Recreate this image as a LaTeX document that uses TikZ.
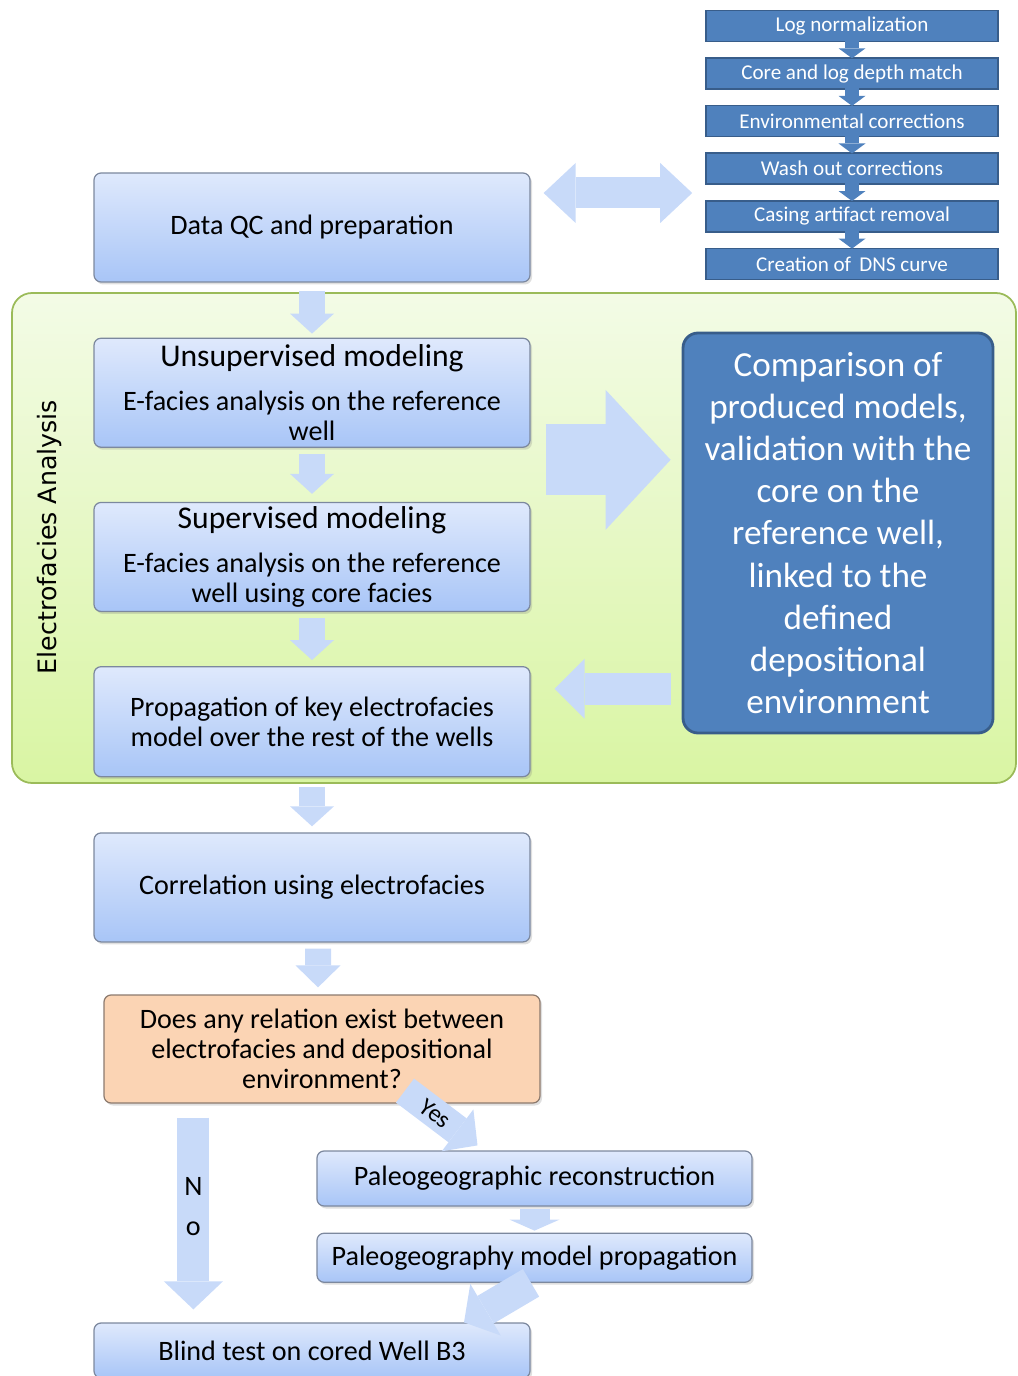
\documentclass[tikz,border=0pt]{standalone}
\usepackage{fontspec}
\setmainfont{Carlito}
\newfontfamily\sidefont{DejaVu Sans}
\usetikzlibrary{arrows.meta, positioning, calc, shadows}
\definecolor{boxtop}{HTML}{DFE9FC}
\definecolor{boxbot}{HTML}{A8C5F7}
\definecolor{boxedge}{HTML}{7C889E}
\definecolor{prepblue}{HTML}{4F81BD}
\definecolor{prepedge}{HTML}{385D8A}
\definecolor{greentop}{HTML}{F3FBE6}
\definecolor{greenbot}{HTML}{D9F5A3}
\definecolor{greenedge}{HTML}{9BBB59}
\definecolor{askfill}{HTML}{FBD4B4}
\definecolor{askedge}{HTML}{8C7A6E}
\definecolor{arrblue}{HTML}{C8DAF9}
\tikzset{
  stepbox/.style={rectangle, rounded corners=4pt, draw=boxedge, line width=0.7pt, top color=boxtop,
    bottom color=boxbot, minimum width=8.72cm, minimum height=2.18cm, align=center,
    font=\fontsize{16}{17}\selectfont, inner sep=2pt,
    drop shadow={opacity=0.25, shadow xshift=0.04cm, shadow yshift=-0.05cm}},
  askbox/.style={stepbox, top color=askfill, bottom color=askfill, draw=askedge},
  prepbox/.style={rectangle, draw=prepedge, line width=0.9pt, fill=prepblue, minimum width=5.84cm,
    minimum height=0.62cm, text=white, font=\fontsize{12}{13}\selectfont, inner sep=1pt},
  bigbox/.style={rectangle, rounded corners=0.3cm, draw=prepedge, line width=1.6pt, fill=prepblue,
    minimum width=6.2cm, minimum height=8cm, text=white, align=center,
    font=\fontsize{20}{24}\selectfont},
  blk/.style={draw=arrblue},
  minarr/.style={draw=prepblue, line width=0.28cm,
    -{Triangle[length=0.2cm, width=0.54cm, line width=0pt]}},
}

\begin{document}
\begin{tikzpicture}
  \useasboundingbox (0,0) rectangle (20.36,-27.52);

  % Electrofacies frame
  \draw[greenedge, line width=1pt, rounded corners=0.4cm, top color=greentop, bottom color=greenbot]
    (0.24,-5.86) rectangle (20.32,-15.66);
  \node[rotate=90, font=\sidefont\fontsize{14.4}{16}\selectfont] (efa) at (1.0,-10.74) {Electrofacies Analysis};

  % main flow
  \node[stepbox] (qc) at (6.24,-4.55) {Data QC and preparation};
  \node[stepbox, below=1.1cm of qc] (unsup)
    {{\fontsize{18}{18}\selectfont Unsupervised modeling}\\[8pt]E-facies analysis on the reference\\well};
  \node[stepbox, below=1.08cm of unsup] (sup)
    {{\fontsize{18}{18}\selectfont Supervised modeling}\\[8pt]E-facies analysis on the reference\\well using core facies};
  \node[stepbox, below=1.08cm of sup, minimum height=2.2cm] (prop)
    {Propagation of key electrofacies\\model over the rest of the wells};
  \node[stepbox, below=1.1cm of prop] (corr) {Correlation using electrofacies};
  \node[askbox, minimum height=2.16cm] (ask) at (6.44,-20.98)
    {Does any relation exist between\\electrofacies and depositional\\environment?};
  \node[stepbox, minimum width=8.7cm, minimum height=1.1cm] (recon) at (10.69,-23.57)
    {Paleogeographic reconstruction};
  \node[stepbox, minimum width=8.7cm, minimum height=0.98cm, below=0.52cm of recon] (mprop)
    {Paleogeography model propagation};
  \node[stepbox, minimum height=1.1cm] (blind) at (6.24,-27.01) {Blind test on cored Well B3};

  % preparation steps
  \node[prepbox] (lognorm) at (17.04,-0.52) {Log normalization};
  \node[prepbox, below=0.3cm of lognorm] (depth) {Core and log depth match};
  \node[prepbox, below=0.3cm of depth] (envcor) {Environmental corrections};
  \node[prepbox, below=0.3cm of envcor] (wash) {Wash out corrections};
  \node[prepbox, below=0.3cm of wash] (casing) {Casing artifact removal};
  \node[prepbox, below=0.3cm of casing] (dns) {Creation of\, DNS curve};
  \draw[minarr] ([yshift=0.06cm]lognorm.south) -- ([yshift=-0.02cm]depth.north);
  \draw[minarr] ([yshift=0.06cm]depth.south) -- ([yshift=-0.02cm]envcor.north);
  \draw[minarr] ([yshift=0.06cm]envcor.south) -- ([yshift=-0.02cm]wash.north);
  \draw[minarr] ([yshift=0.06cm]wash.south) -- ([yshift=-0.02cm]casing.north);
  \draw[minarr] ([yshift=0.06cm]casing.south) -- ([yshift=-0.02cm]dns.north);

  % comparison
  \node[bigbox] (compar) at (16.76,-10.66)
    {Comparison of\\produced models,\\validation with the\\core on the\\reference well,\\linked to the\\defined\\depositional\\environment};

  % block arrows
  \draw[blk, line width=0.62cm, {Triangle[length=0.64cm, width=1.2cm, line width=0pt]}-{Triangle[length=0.64cm, width=1.2cm, line width=0pt]},
    shorten <=0.26cm, shorten >=0.26cm] ([yshift=0.69cm]qc.east) -- ([yshift=0.69cm]qc.east -| wash.west);
  \draw[blk, line width=0.52cm, -{Triangle[length=0.4cm, width=0.88cm, line width=0pt]},
    shorten <=0.16cm, shorten >=0.08cm] (qc) -- (unsup);
  \draw[blk, line width=0.52cm, -{Triangle[length=0.4cm, width=0.88cm, line width=0pt]},
    shorten <=0.12cm, shorten >=0.16cm] (unsup) -- (sup);
  \draw[blk, line width=0.52cm, -{Triangle[length=0.4cm, width=0.88cm, line width=0pt]},
    shorten <=0.12cm, shorten >=0.12cm] (sup) -- (prop);
  \draw[blk, line width=0.52cm, -{Triangle[length=0.4cm, width=0.88cm, line width=0pt]},
    shorten <=0.2cm, shorten >=0.12cm] (prop) -- (corr);
  \draw[blk, line width=0.52cm, -{Triangle[length=0.44cm, width=0.9cm, line width=0pt]},
    shorten <=0.12cm, shorten >=0.14cm] ([xshift=0.12cm]corr.south) -- ([xshift=-0.08cm]ask.north);
  \coordinate (fatfrom) at ([xshift=0.3cm,yshift=0.3cm]$(unsup.south east)!0.5!(sup.north east)$);
  \draw[blk, line width=1.42cm, -{Triangle[length=1.3cm, width=2.8cm, line width=0pt]},
    shorten >=0.22cm] (fatfrom) -- (fatfrom -| compar.west);
  \coordinate (backto) at ([yshift=0.66cm]prop.east);
  \draw[blk, line width=0.64cm, -{Triangle[length=0.6cm, width=1.2cm, line width=0pt]},
    shorten <=0.22cm, shorten >=0.48cm] (backto -| compar.west) -- (backto);

  % decision
  \coordinate (nofrom) at ([xshift=1.8cm]ask.south west);
  \draw[blk, line width=0.64cm, -{Triangle[length=0.56cm, width=1.18cm, line width=0pt]},
    shorten <=0.28cm, shorten >=0.26cm] (nofrom) -- (nofrom |- blind.north)
    node[pos=0.47, align=center, font=\fontsize{16}{22.7}\selectfont] (nolbl) {N\\o};
  \draw[blk, line width=0.6cm, -{Triangle[length=0.5cm, width=1.05cm, line width=0pt]}]
    ([xshift=1.66cm,yshift=0.26cm]ask.south) -- ([xshift=-1.14cm,yshift=0.1cm]recon.north)
    node[pos=0.42, sloped, inner sep=0pt, font=\fontsize{14}{15}\selectfont] (yeslbl) {Yes};
  \draw[blk, line width=0.6cm, -{Triangle[length=0.22cm, width=1.0cm, line width=0pt]},
    shorten <=0.04cm, shorten >=0.04cm] (recon) -- (mprop);
  \draw[blk, line width=0.64cm, -{Triangle[length=0.5cm, width=1.2cm, line width=0pt]}]
    ([xshift=-0.07cm]mprop.south) -- ([xshift=3.04cm]blind.north);
\end{tikzpicture}
\end{document}
